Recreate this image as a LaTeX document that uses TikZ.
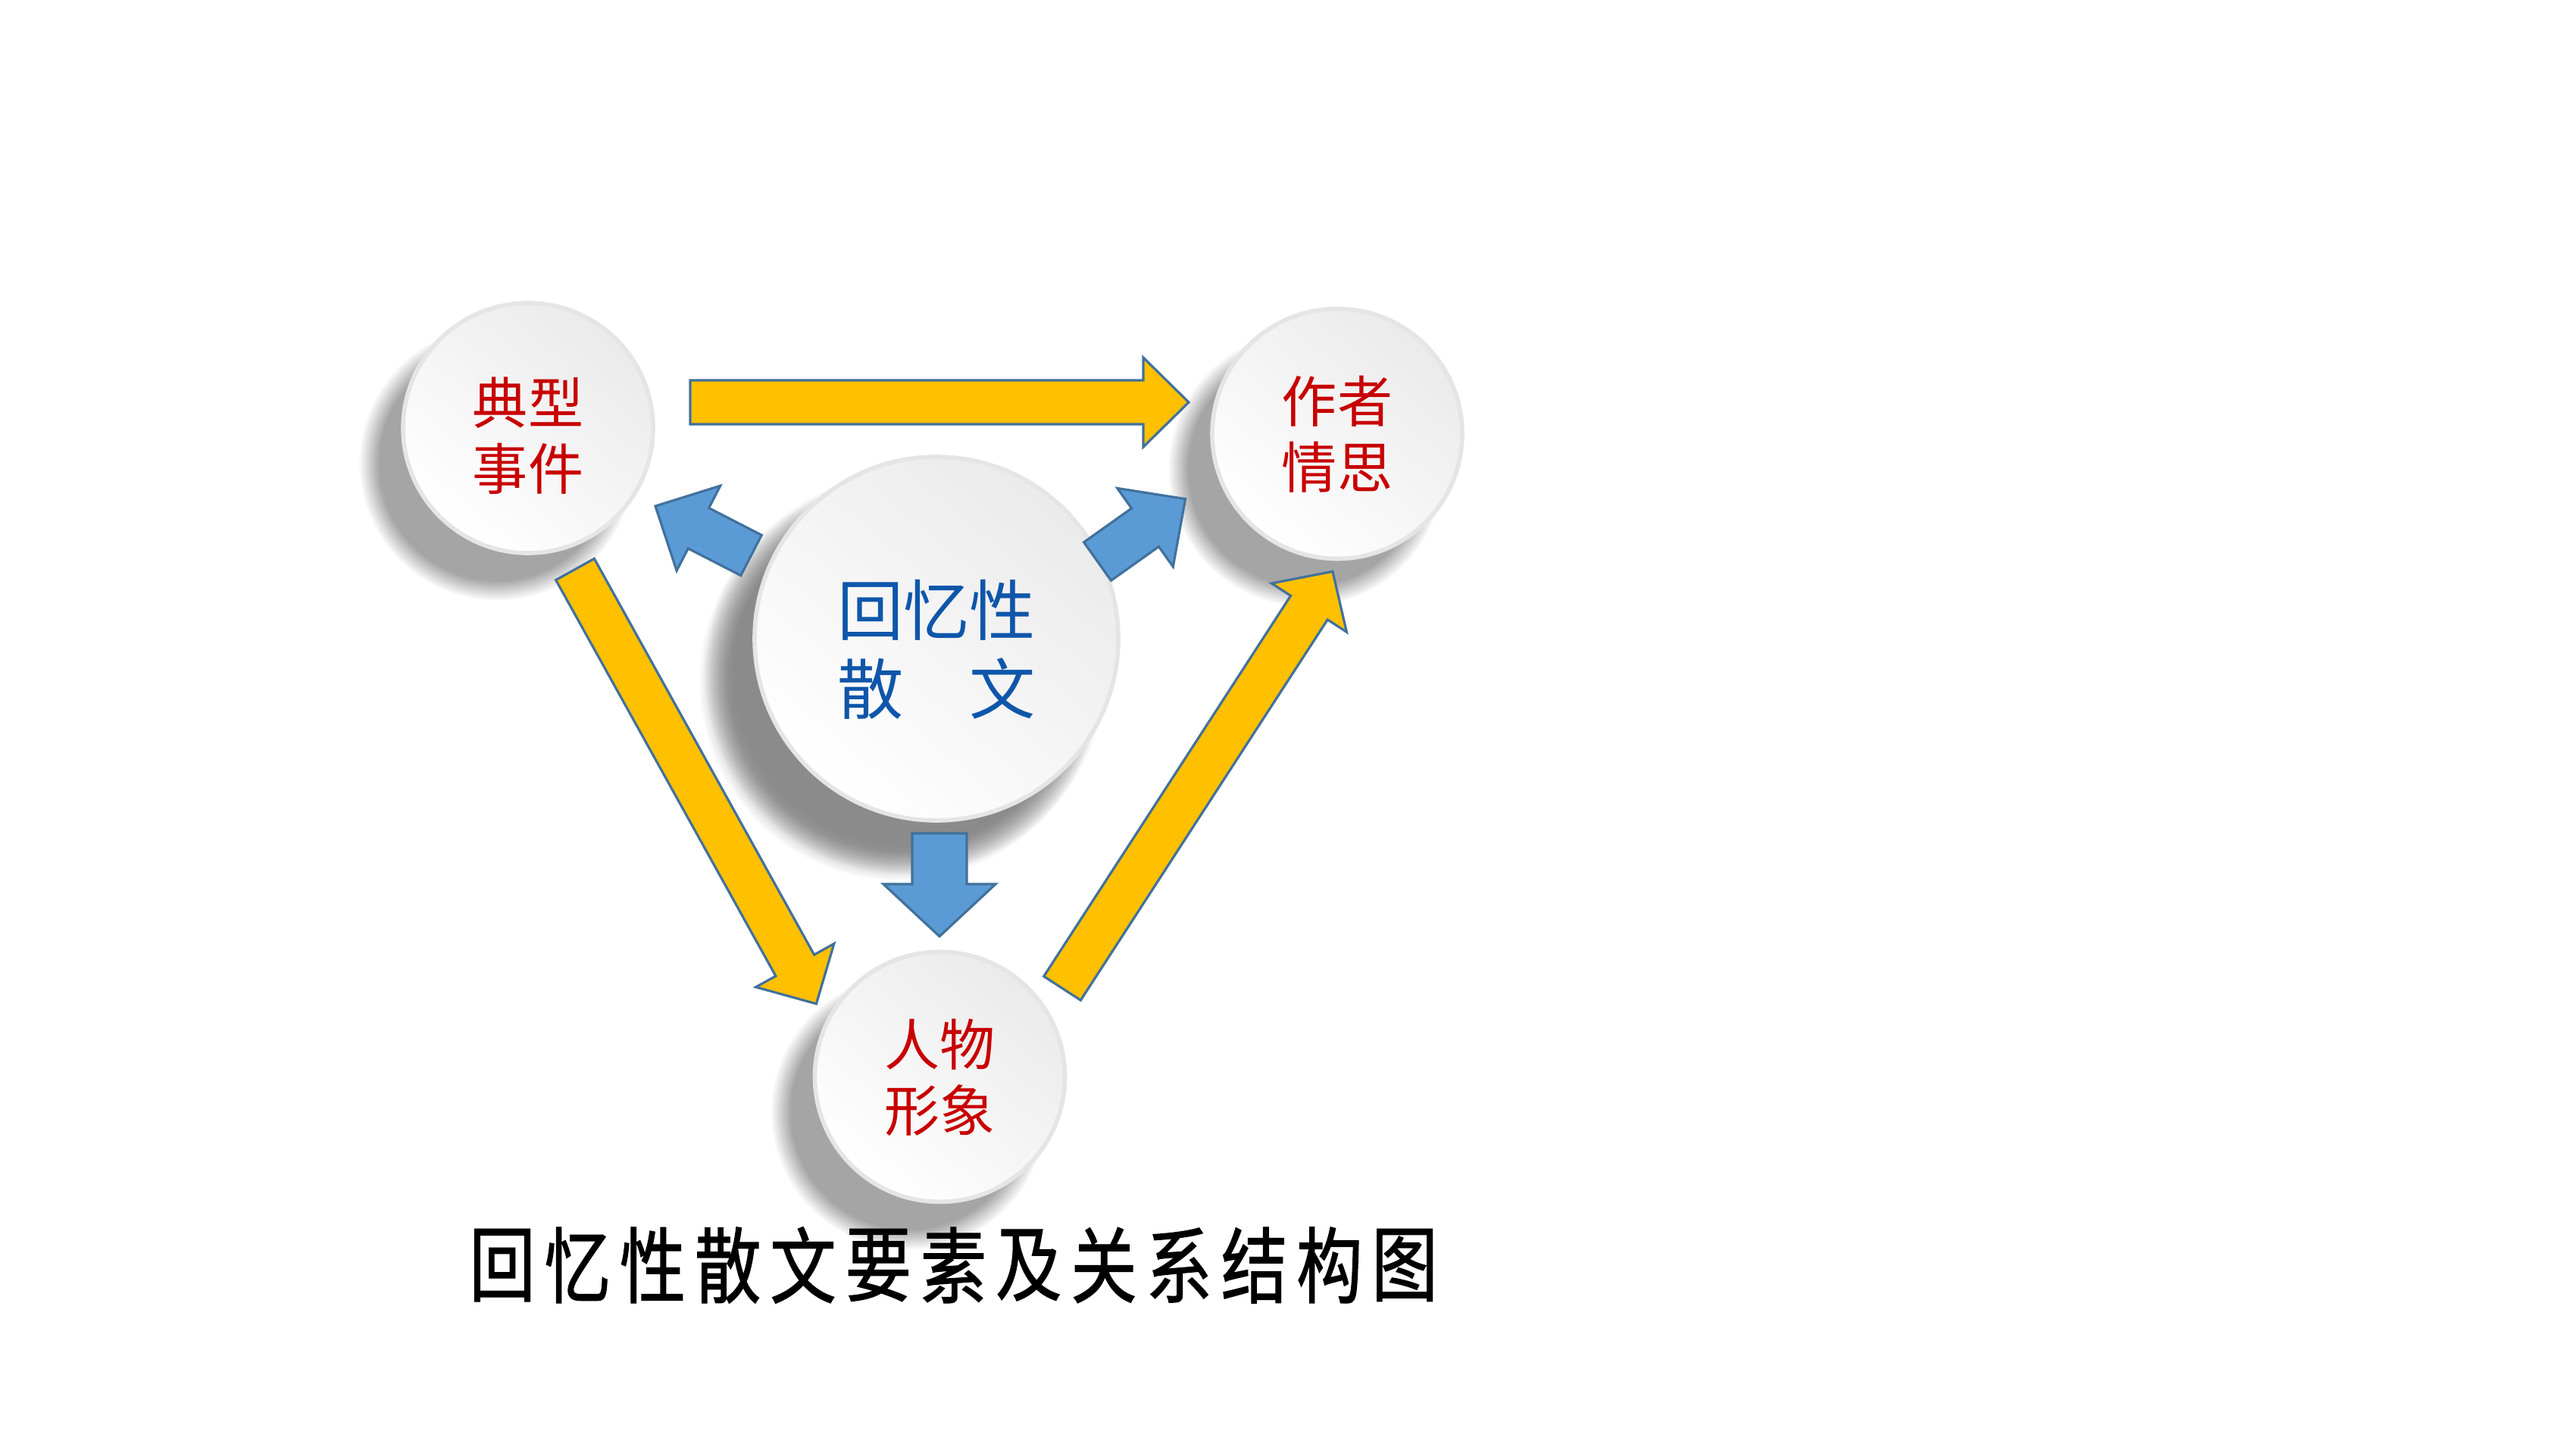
\documentclass[tikz,border=0pt]{standalone}
\usepackage{fontspec}
\newfontfamily\cjk{Noto Sans CJK SC}
\newfontfamily\cjktitle[FakeStretch=0.8,FakeBold=1.2]{Noto Sans CJK SC}
\usepackage{tikz}
\usetikzlibrary{calc}
\usetikzlibrary{shadows,fadings}
\definecolor{cus-yellow}{RGB}{255,192,0}
\definecolor{cus-blue}{RGB}{91,155,213}
\definecolor{cus-edge}{RGB}{65,113,156}
\definecolor{cus-red}{RGB}{200,0,0}
\definecolor{cus-navy}{RGB}{14,86,170}

% block arrow: style, tail, tip, half body, half head, head length
\newcommand{\fatarrow}[6]{%
	\coordinate (hb) at ($(#3)!#6!(#2)$);
	\draw[#1] ($(#2)!#4!-90:(#3)$) -- ($(hb)!#4!-90:(#3)$) -- ($(hb)!#5!-90:(#3)$) -- (#3)
		-- ($(hb)!#5!90:(#3)$) -- ($(hb)!#4!90:(#3)$) -- ($(#2)!#4!90:(#3)$) -- cycle;
}
% two lines, lowered a little
\newcommand{\twolines}[3]{\raisebox{0pt}[\dimexpr\height+#3\relax][\dimexpr\depth-#3\relax]{%
	\begin{tabular}{@{}c@{}}#1\\#2\end{tabular}}}

\begin{document}
\begin{tikzpicture}[
	ball/.style={circle, inner sep=0pt, minimum size=3.3cm, draw=black!10, line width=1.6pt,
		top color=black!8, bottom color=white, shading angle=-40,
		circular drop shadow={shadow xshift=-0.38cm, shadow yshift=-0.42cm, shadow scale=1.1, opacity=0.7},
		text=cus-red, font=\fontsize{20.8}{24.7}\selectfont\cjk},
	bigball/.style={ball, minimum size=4.8cm, text=cus-navy, font=\fontsize{24.8}{28.9}\selectfont\cjk,
		circular drop shadow={shadow xshift=-0.45cm, shadow yshift=-0.5cm, shadow scale=1.1, opacity=0.7}},
	yarrow/.style={fill=cus-yellow, draw=cus-edge, line width=0.9pt, line join=miter},
	barrow/.style={fill=cus-blue, draw=cus-edge, line width=0.9pt, line join=miter},
	titlechar/.style={inner sep=0pt, font=\fontsize{31}{31}\selectfont\cjktitle}
	]
\fill[white] (0,0) rectangle (34,-19.13);
\useasboundingbox (0,0) rectangle (34,-19.13);

\node [ball] (dian) at (6.97,-5.65) {\twolines{典型}{事件}{0.2cm}};
\node [ball] (zuozhe) at (17.65,-5.725) {\twolines{作者}{情思}{0.11cm}};
\node [ball] (renwu) at (12.405,-14.214) {\twolines{人物}{形象}{0.11cm}};
\node [bigball] (huiyi) at (12.36,-8.43) {\twolines{回忆性}{散　文}{0.26cm}};

% yellow arrows round the triangle
\coordinate (y1s) at ($(dian)+(2.14,0.34)$);
\coordinate (y1e) at ($(zuozhe)+(-1.96,0.415)$);
\coordinate (y2s) at ($(dian)+(0.62,-1.865)$);
\coordinate (y2e) at ($(renwu)+(-1.631,0.964)$);
\coordinate (y3s) at ($(renwu)+(1.615,1.169)$);
\coordinate (y3e) at ($(zuozhe)+(-0.061,-1.818)$);
\fatarrow{yarrow}{y1s}{y1e}{0.29cm}{0.59cm}{0.6cm}
\fatarrow{yarrow}{y2s}{y2e}{0.29cm}{0.59cm}{0.58cm}
\fatarrow{yarrow}{y3s}{y3e}{0.29cm}{0.59cm}{0.57cm}

% blue arrows out of the centre
\coordinate (b1s) at ($(huiyi)+(-2.445,1.10)$);
\coordinate (b1e) at ($(dian)+(1.68,-1.03)$);
\coordinate (b2s) at ($(huiyi)+(2.125,1.02)$);
\coordinate (b2e) at ($(zuozhe)+(-2.005,-0.861)$);
\coordinate (b3s) at ($(huiyi)+(0.04,-2.57)$);
\coordinate (b3e) at ($(renwu)+(-0.005,1.854)$);
\fatarrow{barrow}{b1s}{b1e}{0.30cm}{0.63cm}{0.64cm}
\fatarrow{barrow}{b2s}{b2e}{0.31cm}{0.635cm}{0.65cm}
\fatarrow{barrow}{b3s}{b3e}{0.36cm}{0.74cm}{0.69cm}

\foreach \ch [count=\i] in {回,忆,性,散,文,要,素,及,关,系,结,构,图}
	\node [titlechar] (t\i) at ({6.63+0.9925*(\i-1)},-16.7) {\ch};
\end{tikzpicture}
\end{document}
